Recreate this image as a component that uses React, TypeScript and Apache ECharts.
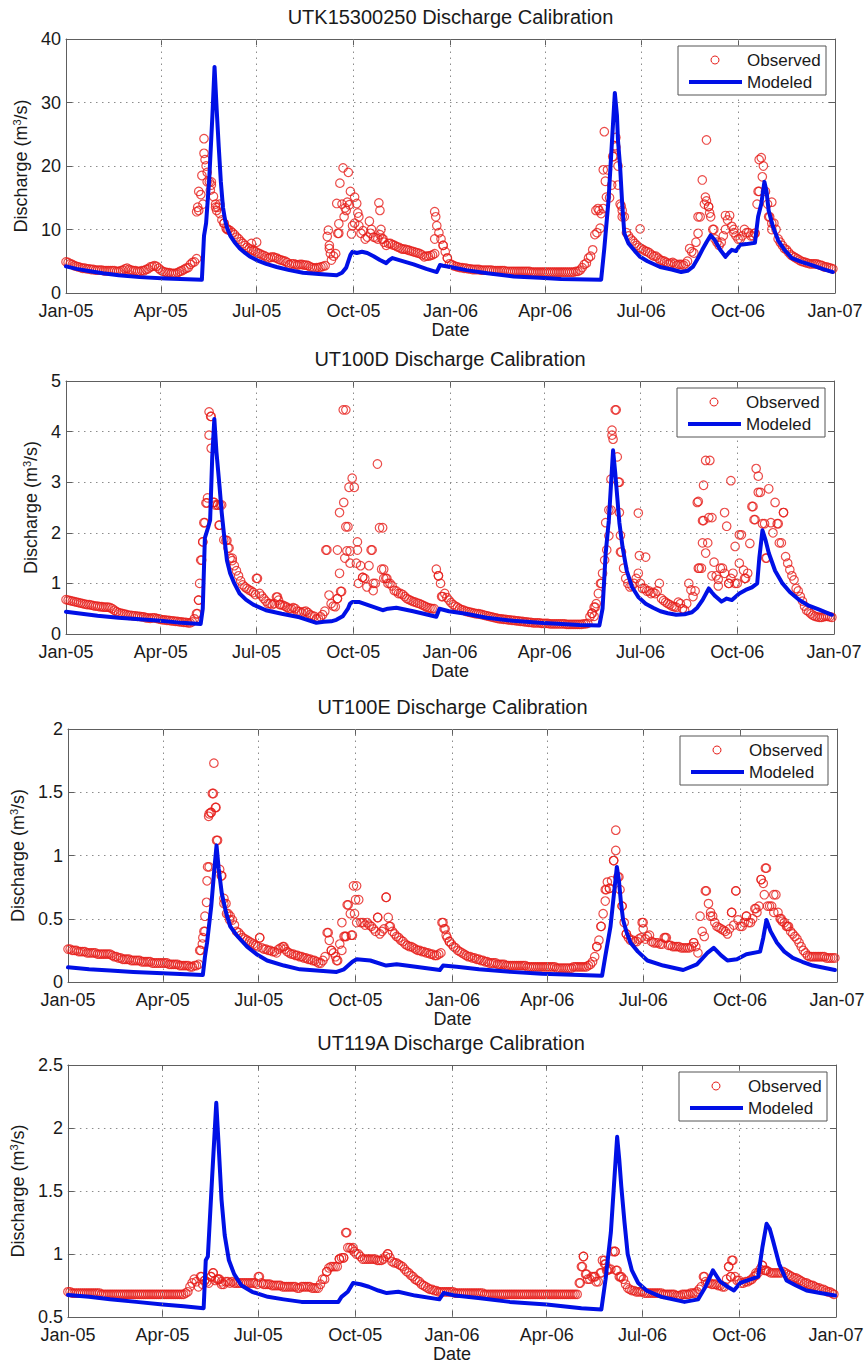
import React, { useEffect, useRef } from 'react';
import * as echarts from 'echarts';

// ---------- texts ----------
const TITLES = [
  'UTK15300250 Discharge Calibration',
  'UT100D Discharge Calibration',
  'UT100E Discharge Calibration',
  'UT119A Discharge Calibration',
];
const X_TICK_DAYS = [0, 90, 181, 273, 365, 455, 546, 638, 730]; // days since 1 Jan 2005
const X_TICK_LABELS = ['Jan-05', 'Apr-05', 'Jul-05', 'Oct-05', 'Jan-06', 'Apr-06', 'Jul-06', 'Oct-06', 'Jan-07'];
const Y_RANGES = [
  [0, 40, 10],
  [0, 5, 1],
  [0, 2, 0.5],
  [0.5, 2.5, 0.5],
];
const LEGEND_NAMES = ['Observed', 'Modeled'];

// ---------- data ----------
// observed values every OBS_STEP days starting 1 Jan 2005 (day 0 .. 728)
const OBS_STEP = 2;

const OBS_1 = [
  4.9, 4.8, 4.6, 4.5, 4.3, 4.2, 4.1, 4.0, 3.9, 3.9,
  3.8, 3.8, 3.7, 3.7, 3.6, 3.6, 3.6, 3.6, 3.5, 3.5,
  3.5, 3.5, 3.5, 3.5, 3.4, 3.4, 3.5, 3.6, 3.8, 3.9,
  3.7, 3.6, 3.5, 3.5, 3.4, 3.4, 3.5, 3.5, 3.7, 3.8,
  4.1, 4.2, 4.3, 4.2, 3.9, 3.6, 3.4, 3.3, 3.2, 3.2,
  3.1, 3.1, 3.1, 3.2, 3.4, 3.5, 3.7, 3.9, 4.0, 4.5,
  4.8, 4.9, 5.4, 13, 15.5, 14, 21, 19, 17.5, 17,
  15.2, 14, 13.5, 12.5, 11.5, 11, 10.2, 10, 9.8, 9.5,
  9.2, 8.8, 8.5, 8.1, 7.8, 7.5, 7.2, 7.0, 6.8, 6.7,
  6.5, 6.3, 6.2, 6.0, 5.9, 5.7, 5.5, 5.6, 5.7, 5.6,
  5.5, 5.3, 5.2, 5.1, 5.0, 4.8, 4.5, 4.6, 4.6, 4.5,
  4.4, 4.5, 4.5, 4.4, 4.4, 4.3, 4.1, 4.0, 3.9, 4.0,
  4.0, 4.1, 4.2, 4.3, 8.9, 7.5, 5.2, 5.8, 6.2, 9.4,
  17.3, 14, 12, 13, 19, 16, 10.6, 11, 14.1, 12,
  9.4, 9.8, 8.5, 8.8, 11.3, 10, 8.8, 8.7, 8.5, 9.2,
  8.5, 8.0, 7.5, 7.8, 7.8, 7.6, 7.5, 7.3, 7.2, 7.0,
  6.9, 6.9, 6.8, 6.7, 6.6, 6.5, 6.4, 6.3, 6.2, 6.0,
  5.7, 5.8, 5.8, 5.9, 6.0, 6.2, 10.6, 9.5, 8.5, 7.5,
  6.5, 5.5, 4.6, 4.5, 4.3, 4.2, 4.1, 4.0, 4.0, 3.9,
  3.9, 3.8, 3.8, 3.7, 3.7, 3.7, 3.7, 3.6, 3.6, 3.6,
  3.6, 3.6, 3.6, 3.5, 3.5, 3.5, 3.5, 3.5, 3.5, 3.4,
  3.4, 3.4, 3.4, 3.4, 3.4, 3.4, 3.4, 3.4, 3.4, 3.4,
  3.4, 3.3, 3.3, 3.3, 3.3, 3.3, 3.3, 3.3, 3.3, 3.3,
  3.3, 3.3, 3.3, 3.3, 3.3, 3.3, 3.3, 3.3, 3.3, 3.3,
  3.3, 3.3, 3.4, 3.4, 3.6, 4.0, 4.5, 4.7, 5.5, 5.8,
  6.8, 9.2, 9.5, 13, 12.5, 13.3, 17.6, 19.4, 15, 17,
  21.5, 23, 17, 14, 13, 12, 9.5, 9, 8.5, 8.2,
  7.8, 7.5, 7.2, 7.0, 6.8, 6.6, 6.5, 6.3, 6.0, 5.8,
  5.8, 5.5, 5.2, 5.1, 5.0, 4.8, 4.6, 4.7, 4.8, 4.6,
  4.4, 4.5, 4.5, 4.4, 4.6, 5.0, 7.0, 6.5, 6.3, 8,
  9.4, 12, 17.8, 14, 14.5, 13.6, 12, 10, 8.5, 8,
  7.5, 8, 9, 10, 11.5, 12.2, 10.5, 10, 9, 8.5,
  8.5, 9, 10, 9.5, 9.5, 9, 9, 9.4, 14, 16,
  21.3, 20, 16, 14, 12, 11, 11, 10, 8.5, 8,
  7.5, 7.0, 6.8, 6.4, 6.0, 5.8, 5.6, 5.4, 5.2, 5.0,
  4.9, 4.8, 4.7, 4.6, 4.6, 4.6, 4.6, 4.5, 4.4, 4.3,
  4.1, 4.1, 4.0, 3.9, 3.8,
];
const OBS_EXTRA_1 = [
  [124, 12.8], [125, 13.5], [126, 16], [129, 18.5], [131, 24.3], [131, 22], [133, 20], [134, 17.5],
  [137, 16.2], [138, 17.5], [142, 13.5], [143, 13], [146, 14], [150, 11], [153, 10], [176, 7.8], [181, 8],
  [249, 9.9], [250, 7.0], [251, 6.2], [257, 14.1], [259, 10.9], [259, 9.4], [263, 19.7], [267, 14.3],
  [269, 13.9], [265, 13.4], [271, 9.3], [274, 15.1], [277, 12.6], [278, 10.6], [289, 9.4], [297, 14.2],
  [298, 13], [299, 10], [301, 8.5], [350, 12.8], [351, 12], [350, 8.5], [358, 7.5], [362, 5.5],
  [503, 13], [505, 13.3], [507, 10.2], [510, 19.4], [511, 25.4], [513, 15.1], [519, 21.5], [521, 23.2],
  [522, 24.5], [524, 20], [527, 13.7], [528, 12], [545, 10.1],
  [600, 12], [608, 24.1], [607, 15.1], [610, 13.6], [611, 12.6], [615, 10], [626, 12.2], [634, 9.5],
  [654, 9.4], [657, 16], [658, 21], [661, 18.3], [670, 14.3], [667, 12], [670, 10],
];
const MODEL_1 = [
  [0, 4.2], [10, 3.8], [20, 3.5], [35, 3.1], [50, 2.8], [70, 2.5], [95, 2.3], [129, 2.1], [131, 9],
  [133, 11], [136, 18], [139, 28], [141, 35.6], [143, 29], [145, 23], [147, 17.5], [149, 13.5],
  [151, 11.5], [153, 10.2], [156, 9], [160, 8], [165, 7], [170, 6.3], [175, 5.7], [182, 5.1], [190, 4.6],
  [200, 4.1], [212, 3.6], [225, 3.2], [240, 3.0], [257, 2.8], [262, 3.2], [266, 4.0], [270, 6.0],
  [272, 6.5], [276, 6.3], [281, 6.5], [286, 6.3], [292, 5.8], [298, 5.2], [304, 4.7], [307, 5.2],
  [310, 5.5], [318, 5.1], [330, 4.5], [342, 3.8], [352, 3.3], [355, 4.4], [358, 4.3], [365, 4.1],
  [380, 3.6], [400, 3.1], [425, 2.6], [450, 2.4], [470, 2.2], [508, 2.1], [511, 7], [515, 14.6],
  [521, 31.5], [523, 28], [524, 24], [526, 19.9], [528, 14], [530, 9.4], [534, 7.8], [540, 6.6],
  [545, 5.7], [552, 5.0], [564, 4.1], [575, 3.7], [584, 3.3], [590, 3.5], [595, 4.1], [600, 5.5],
  [604, 6.8], [608, 8], [612, 9.1], [616, 8.3], [621, 6.8], [626, 5.7], [629, 6.3], [632, 6.8],
  [636, 6.6], [640, 7.6], [646, 7.7], [654, 7.9], [657, 12], [660, 14], [663, 17.5], [665, 16],
  [667, 13], [671, 10.5], [676, 8.3], [682, 6.8], [689, 5.5], [698, 4.9], [708, 4.4], [718, 3.8],
  [728, 3.3],
];

const OBS_2 = [
  0.68, 0.67, 0.66, 0.65, 0.64, 0.63, 0.62, 0.61, 0.6, 0.59,
  0.58, 0.58, 0.57, 0.56, 0.55, 0.55, 0.54, 0.54, 0.53, 0.53,
  0.53, 0.52, 0.5, 0.47, 0.44, 0.42, 0.41, 0.4, 0.39, 0.38,
  0.37, 0.37, 0.36, 0.36, 0.35, 0.35, 0.34, 0.34, 0.32, 0.32,
  0.31, 0.32, 0.32, 0.31, 0.3, 0.29, 0.28, 0.28, 0.27, 0.27,
  0.26, 0.26, 0.25, 0.25, 0.24, 0.24, 0.23, 0.23, 0.22, 0.22,
  0.24, 0.3, 0.4, 0.67, 1.46, 1.82, 2.2, 2.59, 3.93, 4.3,
  2.6, 2.55, 2.55, 2.15, 2.55, 1.86, 1.85, 1.7, 1.5, 1.45,
  1.35, 1.25, 1.15, 1.05, 0.97, 0.93, 0.9, 0.87, 0.85, 0.82,
  0.78, 1.1, 0.8, 0.75, 0.7, 0.65, 0.6, 0.6, 0.58, 0.6,
  0.73, 0.67, 0.58, 0.57, 0.55, 0.53, 0.5, 0.5, 0.52, 0.5,
  0.45, 0.44, 0.42, 0.44, 0.45, 0.42, 0.38, 0.36, 0.35, 0.3,
  0.3, 0.34, 0.38, 0.45, 1.66, 0.77, 0.6, 0.55, 0.54, 0.7,
  1.2, 0.84, 2.6, 4.43, 2.12, 1.64, 3.08, 2.9, 1.4, 1.0,
  1.35, 1.12, 1.1, 0.93, 1.35, 1.66, 0.86, 1.0, 3.36, 2.1,
  1.28, 1.1, 1.1, 1.0, 1.0, 0.95, 0.86, 0.85, 0.8, 0.8,
  0.78, 0.74, 0.7, 0.68, 0.66, 0.64, 0.63, 0.61, 0.6, 0.58,
  0.56, 0.54, 0.52, 0.51, 0.5, 0.5, 1.28, 1.15, 1.0, 0.74,
  0.8, 0.72, 0.67, 0.62, 0.58, 0.55, 0.53, 0.5, 0.48, 0.47,
  0.45, 0.44, 0.43, 0.42, 0.41, 0.4, 0.4, 0.39, 0.38, 0.37,
  0.36, 0.35, 0.34, 0.33, 0.32, 0.31, 0.3, 0.3, 0.29, 0.29,
  0.28, 0.28, 0.27, 0.27, 0.26, 0.26, 0.25, 0.25, 0.24, 0.24,
  0.23, 0.23, 0.22, 0.22, 0.22, 0.22, 0.21, 0.21, 0.21, 0.21,
  0.2, 0.2, 0.2, 0.2, 0.2, 0.2, 0.2, 0.2, 0.19, 0.19,
  0.19, 0.19, 0.19, 0.19, 0.19, 0.19, 0.2, 0.2, 0.21, 0.34,
  0.41, 0.53, 0.6, 0.8, 1.0, 1.2, 1.46, 1.66, 1.94, 2.45,
  3.85, 4.43, 3.5, 3.0, 1.62, 1.3, 1.1, 1.0, 0.93, 0.95,
  1.0, 1.1, 1.2, 1.0, 0.9, 0.9, 0.85, 0.85, 0.8, 0.82,
  0.8, 0.85, 1.0, 0.7, 0.66, 0.63, 0.6, 0.58, 0.55, 0.54,
  0.53, 0.63, 0.6, 0.5, 0.47, 0.6, 1.0, 0.87, 0.74, 0.85,
  2.6, 1.3, 1.3, 2.24, 1.6, 1.8, 3.43, 2.3, 1.42, 1.15,
  1.08, 1.3, 1.3, 1.2, 2.13, 1.0, 1.1, 1.2, 1.73, 1.0,
  1.4, 1.96, 1.26, 1.1, 1.2, 1.79, 2.52, 2.26, 3.27, 2.8,
  2.8, 2.18, 2.18, 1.5, 2.87, 2.2, 2.0, 2.6, 2.18, 1.8,
  1.8, 2.4, 1.53, 1.4, 1.27, 1.15, 1.07, 0.9, 0.85, 0.74,
  0.65, 0.55, 0.47, 0.44, 0.4, 0.37, 0.35, 0.34, 0.33, 0.33,
  0.34, 0.35, 0.35, 0.34, 0.33,
];
const OBS_EXTRA_2 = [
  [125, 0.4], [126, 0.67], [127, 1.0], [129, 1.46], [130, 1.82], [131, 2.2], [133, 2.59], [134.5, 2.69],
  [136, 4.39], [137.5, 4.3], [138, 3.67], [141, 2.6], [144, 2.55], [146.5, 2.55], [145.5, 2.15],
  [153, 1.85], [155, 1.7], [158, 1.5], [181, 1.1], [201, 0.73], [203, 0.58],
  [247, 1.66], [258, 1.66], [258, 0.7], [260, 2.4], [261, 0.84], [263.5, 4.43], [266, 2.12], [269, 2.9],
  [267, 1.64], [265, 1.5], [270, 1.4], [277, 1.82], [277, 1.66], [282, 1.12], [291, 1.66], [292, 1.0],
  [301, 2.1], [302, 1.28], [305, 1.1], [354, 1.15], [357, 0.74],
  [500, 0.41], [502, 0.35], [503, 0.53], [509, 1.0], [513, 2.2], [516, 2.45], [518, 3.06], [519, 4.03],
  [519, 3.93], [523, 4.43], [525, 3.0], [526, 2.4], [527, 1.95], [527, 1.62], [544, 2.39], [545, 1.55],
  [551, 1.52], [601, 2.62], [605, 2.24], [606, 2.94], [608, 3.43], [611, 2.3], [605, 1.8], [601, 1.3],
  [614, 1.15], [626, 2.4], [632, 3.03], [640, 1.96], [645, 1.1], [653, 2.52], [655, 2.26], [658, 3.12],
  [665, 1.5], [677, 2.18], [682, 2.4], [630, 1.0], [620, 0.95], [636, 1.0],
];
const MODEL_2 = [
  [0, 0.44], [15, 0.4], [30, 0.36], [50, 0.32], [70, 0.29], [90, 0.26], [110, 0.22], [128, 0.2],
  [130, 0.5], [132, 1.9], [135, 2.1], [137, 2.25], [139, 3.5], [141, 4.25], [143, 3.6], [146, 2.9],
  [148, 2.4], [150, 2.0], [153, 1.45], [156, 1.2], [160, 1.0], [165, 0.8], [171, 0.68], [178, 0.58],
  [190, 0.47], [205, 0.4], [222, 0.33], [238, 0.22], [245, 0.24], [252, 0.25], [257, 0.28], [263, 0.35],
  [268, 0.5], [270, 0.6], [272, 0.63], [279, 0.63], [290, 0.55], [301, 0.47], [306, 0.5], [314, 0.52],
  [330, 0.45], [352, 0.34], [355, 0.5], [364, 0.45], [380, 0.4], [400, 0.32], [425, 0.26], [450, 0.22],
  [488, 0.18], [507, 0.17], [510, 0.5], [513, 1.6], [516, 2.25], [520, 3.63], [522, 3.2], [524, 2.7],
  [526, 2.2], [529, 1.72], [533, 1.25], [538, 0.93], [544, 0.73], [551, 0.6], [558, 0.52], [565, 0.45],
  [572, 0.41], [580, 0.38], [588, 0.39], [595, 0.43], [600, 0.52], [605, 0.67], [611, 0.9], [614, 0.82],
  [617, 0.75], [623, 0.64], [628, 0.7], [633, 0.67], [640, 0.8], [646, 0.87], [652, 0.92], [657, 1.0],
  [659, 1.5], [662, 2.05], [665, 1.85], [668, 1.6], [674, 1.25], [681, 1.0], [688, 0.83], [697, 0.67],
  [706, 0.56], [716, 0.48], [728, 0.38],
];

const OBS_3 = [
  0.26, 0.26, 0.25, 0.25, 0.25, 0.24, 0.24, 0.24, 0.24, 0.23,
  0.23, 0.23, 0.23, 0.23, 0.22, 0.22, 0.22, 0.22, 0.22, 0.22,
  0.22, 0.21, 0.2, 0.2, 0.19, 0.19, 0.18, 0.18, 0.18, 0.18,
  0.17, 0.17, 0.17, 0.17, 0.17, 0.16, 0.16, 0.16, 0.16, 0.16,
  0.15, 0.15, 0.15, 0.15, 0.15, 0.15, 0.15, 0.15, 0.14, 0.14,
  0.14, 0.14, 0.14, 0.13, 0.13, 0.13, 0.13, 0.13, 0.12, 0.12,
  0.13, 0.13, 0.14, 0.25, 0.35, 0.4, 0.8, 0.91, 1.34, 1.49,
  1.38, 1.12, 0.89, 0.84, 0.66, 0.62, 0.54, 0.52, 0.49, 0.45,
  0.4, 0.39, 0.37, 0.35, 0.34, 0.33, 0.32, 0.31, 0.3, 0.29,
  0.28, 0.35, 0.27, 0.26, 0.26, 0.25, 0.25, 0.24, 0.24, 0.23,
  0.26, 0.27, 0.28, 0.26, 0.24, 0.23, 0.22, 0.22, 0.21, 0.21,
  0.2, 0.2, 0.19, 0.19, 0.18, 0.18, 0.17, 0.17, 0.16, 0.15,
  0.15, 0.17, 0.2, 0.39, 0.33, 0.25, 0.23, 0.2, 0.17, 0.3,
  0.47, 0.36, 0.36, 0.61, 0.54, 0.37, 0.54, 0.76, 0.65, 0.47,
  0.47, 0.45, 0.47, 0.45, 0.44, 0.42, 0.4, 0.51, 0.38, 0.4,
  0.42, 0.67, 0.51, 0.44, 0.4, 0.38, 0.36, 0.35, 0.33, 0.32,
  0.3, 0.29, 0.28, 0.28, 0.27, 0.26, 0.25, 0.25, 0.24, 0.24,
  0.23, 0.23, 0.22, 0.22, 0.21, 0.21, 0.22, 0.23, 0.47, 0.42,
  0.35, 0.32, 0.3, 0.28, 0.27, 0.25, 0.24, 0.23, 0.22, 0.21,
  0.2, 0.2, 0.19, 0.19, 0.18, 0.18, 0.17, 0.17, 0.16, 0.16,
  0.15, 0.15, 0.15, 0.15, 0.14, 0.14, 0.14, 0.14, 0.13, 0.13,
  0.13, 0.13, 0.13, 0.13, 0.13, 0.13, 0.13, 0.13, 0.12, 0.12,
  0.12, 0.12, 0.12, 0.12, 0.12, 0.12, 0.12, 0.12, 0.12, 0.12,
  0.12, 0.12, 0.11, 0.11, 0.11, 0.11, 0.11, 0.11, 0.11, 0.11,
  0.12, 0.12, 0.12, 0.12, 0.12, 0.12, 0.12, 0.13, 0.14, 0.16,
  0.2, 0.28, 0.33, 0.44, 0.54, 0.73, 0.79, 0.74, 0.8, 0.96,
  1.04, 0.83, 0.73, 0.6, 0.47, 0.38, 0.35, 0.33, 0.33, 0.32,
  0.32, 0.34, 0.35, 0.47, 0.34, 0.36, 0.37, 0.32, 0.31, 0.31,
  0.31, 0.3, 0.3, 0.35, 0.35, 0.29, 0.29, 0.28, 0.28, 0.28,
  0.28, 0.27, 0.27, 0.27, 0.27, 0.27, 0.28, 0.31, 0.28, 0.23,
  0.52, 0.4, 0.36, 0.72, 0.62, 0.55, 0.52, 0.47, 0.44, 0.43,
  0.42, 0.41, 0.4, 0.38, 0.42, 0.55, 0.45, 0.72, 0.49, 0.44,
  0.44, 0.47, 0.52, 0.47, 0.47, 0.5, 0.58, 0.55, 0.6, 0.81,
  0.78, 0.9, 0.6, 0.6, 0.6, 0.69, 0.69, 0.55, 0.5, 0.48,
  0.47, 0.44, 0.44, 0.4, 0.38, 0.36, 0.34, 0.31, 0.28, 0.25,
  0.23, 0.21, 0.2, 0.2, 0.2, 0.2, 0.2, 0.2, 0.2, 0.2,
  0.19, 0.19, 0.19, 0.19, 0.19,
];
const OBS_EXTRA_3 = [
  [125, 0.25], [127.5, 0.3], [129, 0.4], [130, 0.52], [131.5, 0.63], [132.5, 0.91], [133.5, 1.31],
  [134, 1.33], [135.5, 1.34], [137, 1.49], [138.5, 1.73], [140.5, 1.38], [141, 1.12], [145.5, 0.84],
  [148, 0.62], [150.5, 0.54], [153.5, 0.49], [182, 0.35], [205, 0.28],
  [247, 0.39], [250, 0.25], [255, 0.17], [260, 0.25], [263, 0.36], [265, 0.61], [269, 0.37], [271, 0.76],
  [273, 0.65], [274, 0.47], [294, 0.51], [302, 0.67], [305, 0.44], [355, 0.47], [357, 0.42], [359, 0.37],
  [362, 0.32],
  [502, 0.28], [506, 0.44], [510, 0.64], [511, 0.73], [514, 0.74], [518, 0.96], [520, 1.2], [523, 0.83],
  [526, 0.6], [530, 0.38], [545, 0.47], [546, 0.42], [567, 0.35], [594, 0.31], [605, 0.72], [610, 0.52],
  [630, 0.55], [634, 0.72], [644, 0.52], [653, 0.58], [658, 0.81], [663, 0.9], [661, 0.69], [670, 0.55],
  [677, 0.5], [683, 0.44],
];
const MODEL_3 = [
  [0, 0.116], [20, 0.1], [40, 0.09], [62, 0.08], [90, 0.07], [128, 0.055], [130, 0.2], [132, 0.31],
  [136, 0.6], [139, 0.9], [141, 1.08], [143, 0.9], [146, 0.7], [150, 0.55], [154, 0.44], [160, 0.37],
  [170, 0.28], [179, 0.22], [189, 0.17], [205, 0.13], [220, 0.1], [255, 0.08], [262, 0.1], [270, 0.16],
  [274, 0.18], [287, 0.17], [302, 0.13], [312, 0.14], [330, 0.12], [353, 0.095], [356, 0.13], [369, 0.12],
  [390, 0.1], [420, 0.08], [450, 0.065], [486, 0.055], [507, 0.05], [510, 0.2], [515, 0.44], [521, 0.91],
  [523, 0.8], [525, 0.62], [527, 0.49], [530, 0.4], [534, 0.31], [541, 0.24], [550, 0.17], [565, 0.13],
  [584, 0.095], [597, 0.14], [607, 0.23], [613, 0.27], [620, 0.21], [626, 0.17], [635, 0.18], [644, 0.22],
  [657, 0.24], [660, 0.35], [663, 0.49], [667, 0.4], [673, 0.31], [680, 0.24], [688, 0.19], [697, 0.16],
  [707, 0.13], [728, 0.095],
];

const OBS_4 = [
  0.7, 0.7, 0.69, 0.69, 0.69, 0.69, 0.69, 0.69, 0.69, 0.69,
  0.69, 0.69, 0.69, 0.69, 0.69, 0.69, 0.68, 0.68, 0.68, 0.68,
  0.68, 0.68, 0.68, 0.68, 0.68, 0.68, 0.68, 0.68, 0.68, 0.68,
  0.68, 0.68, 0.68, 0.68, 0.68, 0.68, 0.68, 0.68, 0.68, 0.68,
  0.68, 0.68, 0.68, 0.68, 0.68, 0.68, 0.68, 0.68, 0.68, 0.68,
  0.68, 0.68, 0.68, 0.68, 0.68, 0.68, 0.69, 0.7, 0.74, 0.77,
  0.8, 0.78, 0.74, 0.82, 0.76, 0.79, 0.78, 0.77, 0.82, 0.85,
  0.79, 0.8, 0.8, 0.78, 0.76, 0.78, 0.78, 0.77, 0.78, 0.77,
  0.77, 0.77, 0.77, 0.77, 0.77, 0.77, 0.77, 0.77, 0.77, 0.77,
  0.76, 0.82, 0.77, 0.76, 0.76, 0.76, 0.76, 0.75, 0.75, 0.75,
  0.75, 0.75, 0.74, 0.74, 0.74, 0.74, 0.74, 0.74, 0.74, 0.73,
  0.73, 0.74, 0.74, 0.74, 0.74, 0.74, 0.73, 0.73, 0.73, 0.73,
  0.76, 0.8, 0.8, 0.86, 0.89, 0.9, 0.9, 0.9, 0.9, 0.96,
  0.97, 0.97, 1.17, 1.05, 1.05, 1.04, 1.02, 1.0, 1.0, 0.98,
  0.96, 0.96, 0.96, 0.96, 0.96, 0.96, 0.96, 0.95, 0.95, 0.95,
  0.96, 0.98, 1.0, 0.97, 0.94, 0.93, 0.93, 0.92, 0.91, 0.9,
  0.88, 0.86, 0.85, 0.83, 0.82, 0.8, 0.79, 0.78, 0.76, 0.75,
  0.74, 0.73, 0.72, 0.72, 0.71, 0.71, 0.7, 0.7, 0.7, 0.7,
  0.7, 0.7, 0.7, 0.7, 0.69, 0.69, 0.69, 0.69, 0.69, 0.69,
  0.69, 0.69, 0.69, 0.69, 0.69, 0.69, 0.69, 0.69, 0.68, 0.68,
  0.68, 0.68, 0.68, 0.68, 0.68, 0.68, 0.68, 0.68, 0.68, 0.68,
  0.68, 0.68, 0.68, 0.68, 0.68, 0.68, 0.68, 0.68, 0.68, 0.68,
  0.68, 0.68, 0.68, 0.68, 0.68, 0.68, 0.68, 0.68, 0.68, 0.68,
  0.68, 0.68, 0.68, 0.68, 0.68, 0.68, 0.68, 0.68, 0.68, 0.68,
  0.68, 0.68, 0.68, 0.77, 0.9, 0.98, 0.84, 0.8, 0.8, 0.82,
  0.82, 0.78, 0.78, 0.85, 0.95, 0.92, 0.87, 0.88, 0.88, 1.02,
  1.02, 0.87, 0.82, 0.82, 0.8, 0.76, 0.73, 0.72, 0.71, 0.71,
  0.7, 0.7, 0.7, 0.7, 0.69, 0.69, 0.69, 0.69, 0.69, 0.69,
  0.69, 0.69, 0.69, 0.68, 0.68, 0.68, 0.68, 0.68, 0.68, 0.67,
  0.67, 0.67, 0.68, 0.68, 0.68, 0.68, 0.69, 0.69, 0.69, 0.7,
  0.72, 0.74, 0.82, 0.78, 0.77, 0.77, 0.76, 0.76, 0.76, 0.75,
  0.75, 0.74, 0.74, 0.8, 0.9, 0.82, 0.95, 0.82, 0.79, 0.79,
  0.77, 0.77, 0.78, 0.78, 0.79, 0.8, 0.82, 0.83, 0.85, 0.88,
  0.91, 0.87, 0.87, 0.86, 0.85, 0.85, 0.85, 0.85, 0.85, 0.85,
  0.86, 0.85, 0.84, 0.83, 0.82, 0.81, 0.81, 0.8, 0.79, 0.78,
  0.77, 0.77, 0.76, 0.75, 0.75, 0.74, 0.73, 0.73, 0.72, 0.72,
  0.71, 0.7, 0.7, 0.69, 0.68,
];
const OBS_EXTRA_4 = [
  [127, 0.82], [130, 0.79], [136, 0.82], [138, 0.85], [143, 0.8], [146, 0.76], [181, 0.82],
  [246, 0.86], [258, 0.96], [262, 0.97], [265, 1.17], [271, 1.05], [304, 1.0],
  [487, 0.77], [489, 0.9], [490, 0.98], [493, 0.84], [501, 0.82], [507, 0.85], [510, 0.95], [511, 0.92],
  [513, 0.87], [520, 1.02], [521, 0.87], [525, 0.82], [605, 0.82], [628, 0.9], [631, 0.95], [630, 0.82],
  [654, 0.85], [660, 0.91], [663, 0.87],
];
const MODEL_4 = [
  [0, 0.675], [20, 0.66], [40, 0.64], [65, 0.62], [90, 0.6], [110, 0.585], [129, 0.57], [131, 0.95],
  [133, 0.98], [137, 1.6], [141, 2.2], [143, 1.9], [146, 1.43], [149, 1.15], [153, 0.95], [158, 0.84],
  [165, 0.75], [175, 0.7], [190, 0.66], [205, 0.64], [222, 0.62], [240, 0.62], [257, 0.62], [260, 0.66],
  [266, 0.7], [271, 0.77], [278, 0.76], [286, 0.74], [295, 0.71], [303, 0.69], [314, 0.7], [330, 0.67],
  [353, 0.64], [357, 0.69], [368, 0.67], [390, 0.65], [420, 0.62], [455, 0.6], [488, 0.57], [507, 0.56],
  [511, 0.8], [516, 1.17], [522, 1.93], [524, 1.75], [526, 1.53], [529, 1.25], [532, 1.0], [536, 0.87],
  [542, 0.77], [550, 0.71], [564, 0.66], [586, 0.62], [599, 0.64], [606, 0.74], [613, 0.87], [620, 0.78],
  [627, 0.74], [633, 0.71], [639, 0.77], [646, 0.79], [656, 0.82], [660, 1.05], [664, 1.24], [667, 1.2],
  [670, 1.11], [676, 0.92], [683, 0.79], [692, 0.75], [702, 0.71], [715, 0.69], [729, 0.67],
];

// ---------- layout / style ----------
const W = 868;
const H = 1364;
const LAYOUT = [
  { left: 66, right: 835, top: 39, bottom: 293, nameGap: 31 },
  { left: 66, right: 834, top: 381, bottom: 634, nameGap: 22 },
  { left: 68, right: 837, top: 729, bottom: 982, nameGap: 35 },
  { left: 66, right: 836, top: 1065, bottom: 1317, nameGap: 37 },
];
const FONT = '"Liberation Sans", Arial, Helvetica, sans-serif';
const RED = '#e61e1a';
const BLUE = '#0010e6';
const AX = '#5e5e5e';
const GRIDC = '#8c8c8c';
const TXT = '#1a1a1a';
const DOT = [1.5, 4.5];

const PANELS = [
  { title: TITLES[0], obs: OBS_1, extra: OBS_EXTRA_1, model: MODEL_1, y: Y_RANGES[0], box: LAYOUT[0] },
  { title: TITLES[1], obs: OBS_2, extra: OBS_EXTRA_2, model: MODEL_2, y: Y_RANGES[1], box: LAYOUT[1] },
  { title: TITLES[2], obs: OBS_3, extra: OBS_EXTRA_3, model: MODEL_3, y: Y_RANGES[2], box: LAYOUT[2] },
  { title: TITLES[3], obs: OBS_4, extra: OBS_EXTRA_4, model: MODEL_4, y: Y_RANGES[3], box: LAYOUT[3] },
];

function buildOption() {
  const grid: any[] = [];
  const xAxis: any[] = [];
  const yAxis: any[] = [];
  const series: any[] = [];
  const graphic: any[] = [];

  PANELS.forEach((p, i) => {
    const b = p.box;
    grid.push({ left: b.left, top: b.top, width: b.right - b.left, height: b.bottom - b.top, containLabel: false });

    const tickCommon = { show: true, inside: true, length: 6, lineStyle: { color: AX, width: 1 } };
    xAxis.push({
      type: 'value', gridIndex: i, min: 0, max: 730, position: 'bottom',
      axisLine: { show: true, onZero: false, lineStyle: { color: AX, width: 1 } },
      axisTick: { ...tickCommon, customValues: X_TICK_DAYS },
      axisLabel: {
        customValues: X_TICK_DAYS, fontSize: 18, color: TXT, fontFamily: FONT, margin: 9,
        formatter: (v: number) => { const k = X_TICK_DAYS.indexOf(Math.round(v)); return k >= 0 ? X_TICK_LABELS[k] : ''; },
      },
      splitLine: { show: false },
      name: 'Date', nameLocation: 'middle', nameGap: 27,
      nameTextStyle: { fontSize: 18, color: TXT, fontFamily: FONT },
    });
    xAxis.push({
      type: 'value', gridIndex: i, min: 0, max: 730, position: 'top',
      axisLine: { show: true, onZero: false, lineStyle: { color: AX, width: 1 } },
      axisTick: { ...tickCommon, customValues: X_TICK_DAYS },
      axisLabel: { show: false },
      splitLine: { show: false },
    });
    const [ymin, ymax, yint] = p.y;
    yAxis.push({
      type: 'value', gridIndex: i, min: ymin, max: ymax, interval: yint, position: 'left',
      axisLine: { show: true, onZero: false, lineStyle: { color: AX, width: 1 } },
      axisTick: tickCommon,
      axisLabel: { fontSize: 18, color: TXT, fontFamily: FONT, margin: 5 },
      splitLine: { show: true, lineStyle: { type: DOT, color: GRIDC, width: 1 } },
      name: 'Discharge (m{sup|3}/s)', nameLocation: 'middle', nameRotate: 90, nameGap: b.nameGap,
      nameTextStyle: {
        fontSize: 18, color: TXT, fontFamily: FONT,
        rich: { sup: { fontSize: 11, color: TXT, fontFamily: FONT, verticalAlign: 'top', lineHeight: 20 } },
      },
    });
    yAxis.push({
      type: 'value', gridIndex: i, min: ymin, max: ymax, interval: yint, position: 'right',
      axisLine: { show: true, onZero: false, lineStyle: { color: AX, width: 1 } },
      axisTick: tickCommon,
      axisLabel: { show: false },
      splitLine: { show: false },
    });

    // vertical dotted grid lines at the date ticks
    series.push({
      type: 'line', xAxisIndex: 2 * i, yAxisIndex: 2 * i, data: [], silent: true, z: 1,
      markLine: {
        silent: true, symbol: ['none', 'none'], label: { show: false }, animation: false,
        lineStyle: { type: DOT, color: GRIDC, width: 1 },
        emphasis: { disabled: true },
        data: X_TICK_DAYS.slice(1, -1).map((d) => ({ xAxis: d })),
      },
    });
    const obsData = p.obs.map((v, k) => [k * OBS_STEP, v]).concat(p.extra);
    series.push({
      name: LEGEND_NAMES[0], type: 'scatter', xAxisIndex: 2 * i, yAxisIndex: 2 * i, data: obsData,
      symbol: 'circle', symbolSize: 8.5, silent: true, z: 3,
      itemStyle: { color: 'rgba(255,255,255,0)', borderColor: RED, borderWidth: 1.2 },
      emphasis: { disabled: true },
    });
    series.push({
      name: LEGEND_NAMES[1], type: 'line', xAxisIndex: 2 * i, yAxisIndex: 2 * i, data: p.model,
      showSymbol: false, symbol: 'none', silent: true, z: 4,
      lineStyle: { color: BLUE, width: 4, join: 'round', cap: 'round' },
      emphasis: { disabled: true },
    });

    // title
    graphic.push({
      type: 'text', x: (b.left + b.right) / 2, y: b.top - 22, z: 100,
      style: {
        text: p.title, fill: TXT, font: `20px ${FONT}`,
        textAlign: 'center', textVerticalAlign: 'middle', align: 'center', verticalAlign: 'middle',
      },
    });
    // legend box
    const bx = b.right - 9 - 148;
    const by = b.top + 7;
    graphic.push({
      type: 'rect', z: 100, shape: { x: bx, y: by, width: 148, height: 49 },
      style: { fill: '#ffffff', stroke: '#555555', lineWidth: 1 },
    });
    graphic.push({
      type: 'circle', z: 101, shape: { cx: bx + 37, cy: by + 14, r: 4 },
      style: { fill: 'rgba(255,255,255,0)', stroke: RED, lineWidth: 1 },
    });
    graphic.push({
      type: 'line', z: 101, shape: { x1: bx + 11, y1: by + 36, x2: bx + 64, y2: by + 36 },
      style: { stroke: BLUE, lineWidth: 4 },
    });
    LEGEND_NAMES.forEach((nm, k) => {
      graphic.push({
        type: 'text', z: 101, x: bx + 69, y: by + 14 + k * 22,
        style: {
          text: nm, fill: TXT, font: `17px ${FONT}`,
          textAlign: 'left', textVerticalAlign: 'middle', align: 'left', verticalAlign: 'middle',
        },
      });
    });
  });

  return {
    animation: false,
    backgroundColor: '#ffffff',
    grid, xAxis, yAxis, series, graphic,
  };
}

export default function App() {
  const ref = useRef<HTMLDivElement>(null);
  useEffect(() => {
    if (!ref.current) return;
    const chart = echarts.init(ref.current, null, { renderer: 'svg', width: W, height: H });
    chart.setOption(buildOption() as any);
    return () => chart.dispose();
  }, []);
  return (
    <div
      ref={ref}
      style={{ position: 'absolute', left: 0, top: 0, width: W, height: H, background: '#fff' }}
    />
  );
}
